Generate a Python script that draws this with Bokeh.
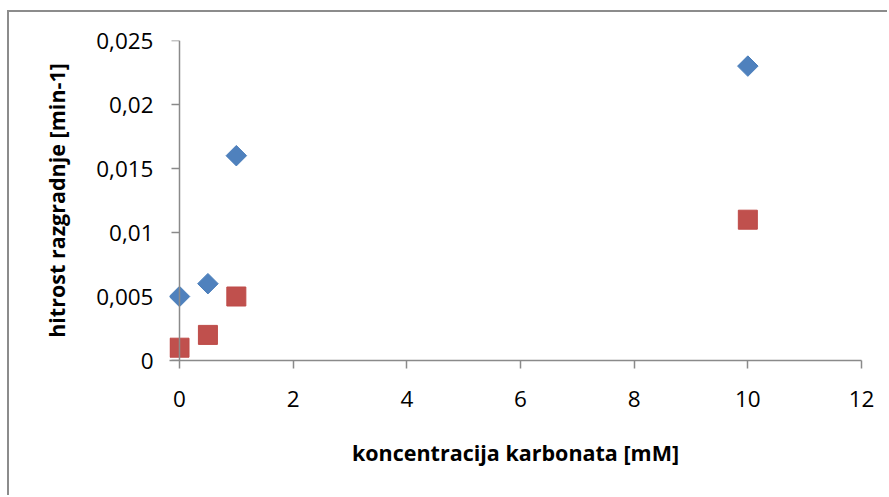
import math
from bokeh.plotting import figure
from bokeh.models import FixedTicker, ColumnDataSource, Range1d, Span
from bokeh.embed import file_html
from bokeh.resources import INLINE

# carbonate concentration [mM] and degradation rate constants [min-1]
conc = [0, 0.5, 1, 10]
rate_a = [0.005, 0.006, 0.016, 0.023]
rate_b = [0.001, 0.002, 0.005, 0.011]

x_ticks = [0, 2, 4, 6, 8, 10, 12]
y_ticks = [0, 0.005, 0.01, 0.015, 0.02, 0.025]
y_tick_labels = ["0", "0,005", "0,01", "0,015", "0,02", "0,025"]

x_title = "koncentracija karbonata [mM]"
y_title = "hitrost razgradnje [min-1]"

FONT = "Open Sans"
AXIS_GREY = "#8a8a8a"
BORDER_GREY = "#8c8c8c"

# page offset of the chart box (its grey frame starts here)
OX, OY = 7, 10
BW = 2
W, H = 889 - OX - BW, 497 - OY - BW

# plot area on the page: x=0 at 179, x=12 at 861, y=0.025 at 40, y=0 at 360.
# a small pad left of x=0 keeps markers on the vertical axis unclipped
X_MAX, Y_MAX = 12, 0.025
px_per_unit = (861 - 179) / X_MAX
pad_px = 10
x_start = -pad_px / px_per_unit
cx = OX + BW
cy = OY + BW

p = figure(
    width=W, height=H,
    output_backend="svg", toolbar_location=None,
    x_range=Range1d(x_start, X_MAX), y_range=Range1d(0, Y_MAX),
    min_border_left=179 - pad_px - cx, min_border_right=889 - 861,
    min_border_top=40 - cy, min_border_bottom=497 - 360,
    background_fill_color="white", border_fill_color="white",
)
p.styles = {
    "margin-left": f"{OX}px", "margin-top": f"{OY}px",
    "border-left": f"{BW}px solid {BORDER_GREY}",
    "border-top": f"{BW}px solid {BORDER_GREY}",
}
p.outline_line_color = None
p.grid.visible = False

for ax in (p.xaxis[0], p.yaxis[0]):
    ax.axis_line_color = AXIS_GREY
    ax.axis_line_width = 1.5
    ax.major_tick_line_color = AXIS_GREY
    ax.major_tick_line_width = 1.5
    ax.major_tick_in = 0
    ax.major_tick_out = 8
    ax.minor_tick_line_color = None
    ax.major_label_text_font = FONT
    ax.major_label_text_font_size = "22.5px"
    ax.major_label_text_color = "black"
    ax.axis_label_text_font = FONT
    ax.axis_label_text_font_size = "21.5px"
    ax.axis_label_text_font_style = "bold"
    ax.axis_label_text_color = "black"

# the vertical axis line and its ticks sit at x=0, drawn below
p.yaxis.axis_line_color = None
p.yaxis.major_tick_line_color = None
p.yaxis.major_tick_out = 0

p.xaxis.ticker = FixedTicker(ticks=x_ticks)
p.yaxis.ticker = FixedTicker(ticks=y_ticks)
p.yaxis.major_label_overrides = {v: s for v, s in zip(y_ticks, y_tick_labels)}
p.xaxis.major_label_standoff = 22
p.yaxis.major_label_standoff = 16
p.xaxis.axis_label = x_title
p.yaxis.axis_label = y_title
p.xaxis.axis_label_standoff = 28
p.yaxis.axis_label_standoff = 22

tick_len = 8 / px_per_unit
p.segment(x0=[-tick_len] * len(y_ticks), y0=y_ticks, x1=[0] * len(y_ticks), y1=y_ticks,
          line_color=AXIS_GREY, line_width=1.5)
p.add_layout(Span(location=0, dimension="height", line_color=AXIS_GREY, line_width=1.5))

src_a = ColumnDataSource(dict(x=conc, y=rate_a))
src_b = ColumnDataSource(dict(x=conc, y=rate_b))

# series A: blue diamonds (rotated squares)
p.scatter("x", "y", source=src_a, marker="square", size=14.5, angle=math.pi / 4,
          fill_color="#4F81BD", line_color="#4A7EBB", line_width=1)
# series B: red squares
p.scatter("x", "y", source=src_b, marker="square", size=19,
          fill_color="#C0504D", line_color="#BE4B48", line_width=1)

open("out.html", "w").write(file_html(p, INLINE))
